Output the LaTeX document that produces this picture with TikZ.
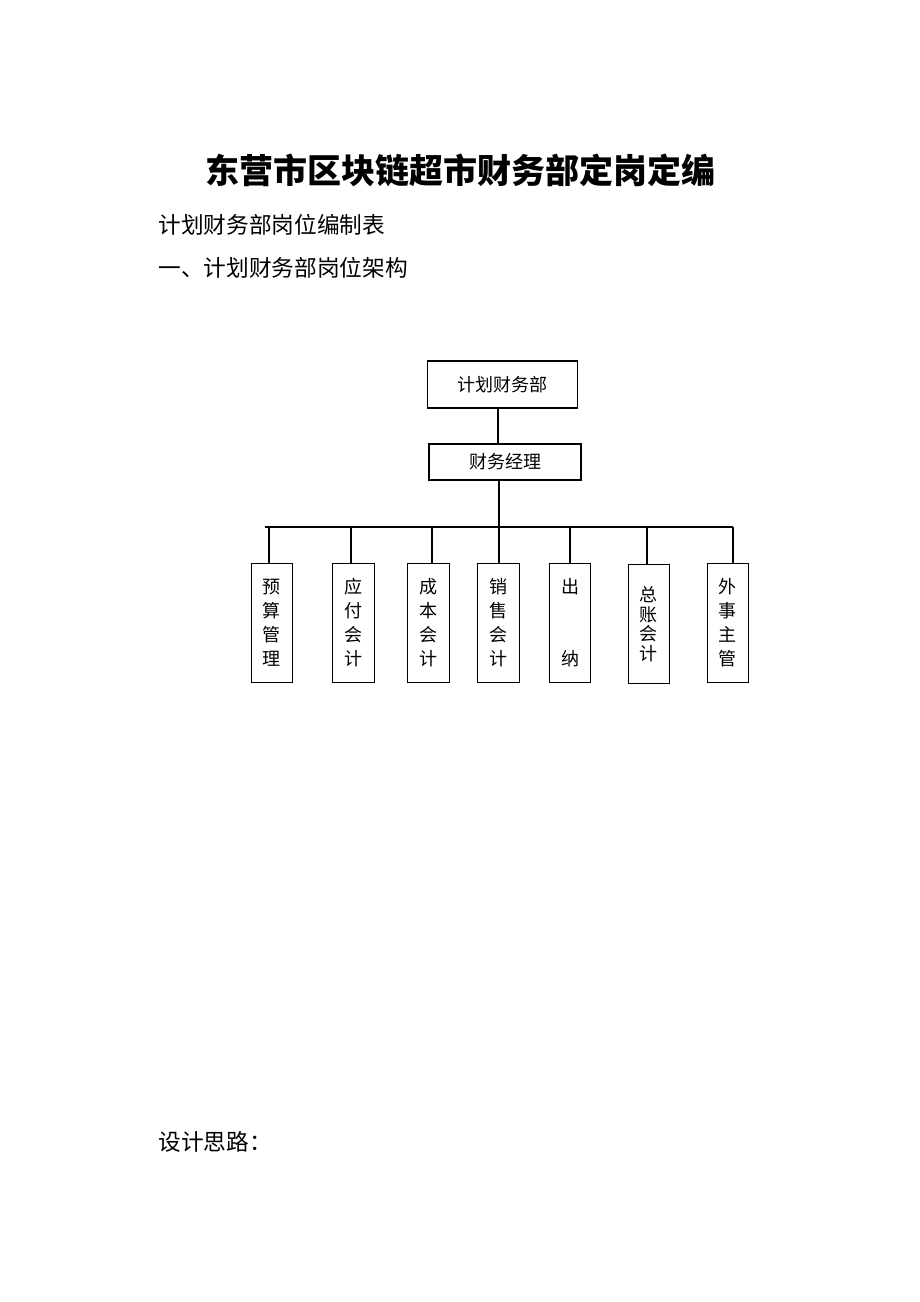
\documentclass[tikz,border=0pt]{standalone}
\usepackage{fontspec}
\newfontfamily\cjk{Noto Sans CJK SC}

\begin{document}
\begin{tikzpicture}[x=0.75pt, y=-0.75pt,
  txt/.style={font=\cjk\fontsize{17}{22}\selectfont, inner sep=0pt},
  unit/.style={draw, line width=0.8pt, inner sep=0pt, font=\cjk\fontsize{13.5}{18}\selectfont},
  post/.style={unit, minimum width=31pt, minimum height=89.6pt, align=center},
  every path/.style={line width=0.8pt}]

\useasboundingbox (0,0) rectangle (920,1302);

% Heading
\node[txt, font=\cjk\bfseries\fontsize{25.5}{30}\selectfont] (title) at (460,170) {东营市区块链超市财务部定岗定编};
\node[txt, anchor=west] (sub) at (158,225) {计划财务部岗位编制表};
\node[txt, anchor=west] (sec) at (158,268) {一、计划财务部岗位架构};

% Level 1
\node[unit, minimum width=113pt, minimum height=35.25pt] (dept) at (502.5,384.5) {计划财务部};

% Level 2
\node[unit, minimum width=114pt, minimum height=27pt] (mgr) at (505,462) {财务经理};

% Level 3
\node[post] (p1) at (271.8,623) {预\\算\\管\\理};
\node[post] (p2) at (353.5,623) {应\\付\\会\\计};
\node[post] (p3) at (428.5,623) {成\\本\\会\\计};
\node[post] (p4) at (498.5,623) {销\\售\\会\\计};
\node[post] (p5) at (570,623) {出\\[36pt]纳};
\node[post, font=\cjk\fontsize{13.5}{14.6}\selectfont] (p6) at (648.8,624.2) {总\\账\\会\\计};
\node[post] (p7) at (727.8,623) {外\\事\\主\\管};

% Bar
\coordinate (barL) at (265,527);
\coordinate (barR) at (733,527);
\coordinate (b1) at (269,527);
\coordinate (b2) at (351,527);
\coordinate (b3) at (432,527);
\coordinate (b4) at (499,527);
\coordinate (b5) at (570,527);
\coordinate (b6) at (647,527);
\coordinate (b7) at (733,527);

% Lines
\draw (dept.south -| 498,0) -- (mgr.north -| 498,0);
\draw (mgr.south -| b4) -- (b4);
\draw (barL) -- (barR);
\foreach \i in {1,...,7}
  \draw (b\i) -- (b\i |- p\i.north);

\node[txt, anchor=west] (idea) at (158,1142) {设计思路：};

\end{tikzpicture}
\end{document}
